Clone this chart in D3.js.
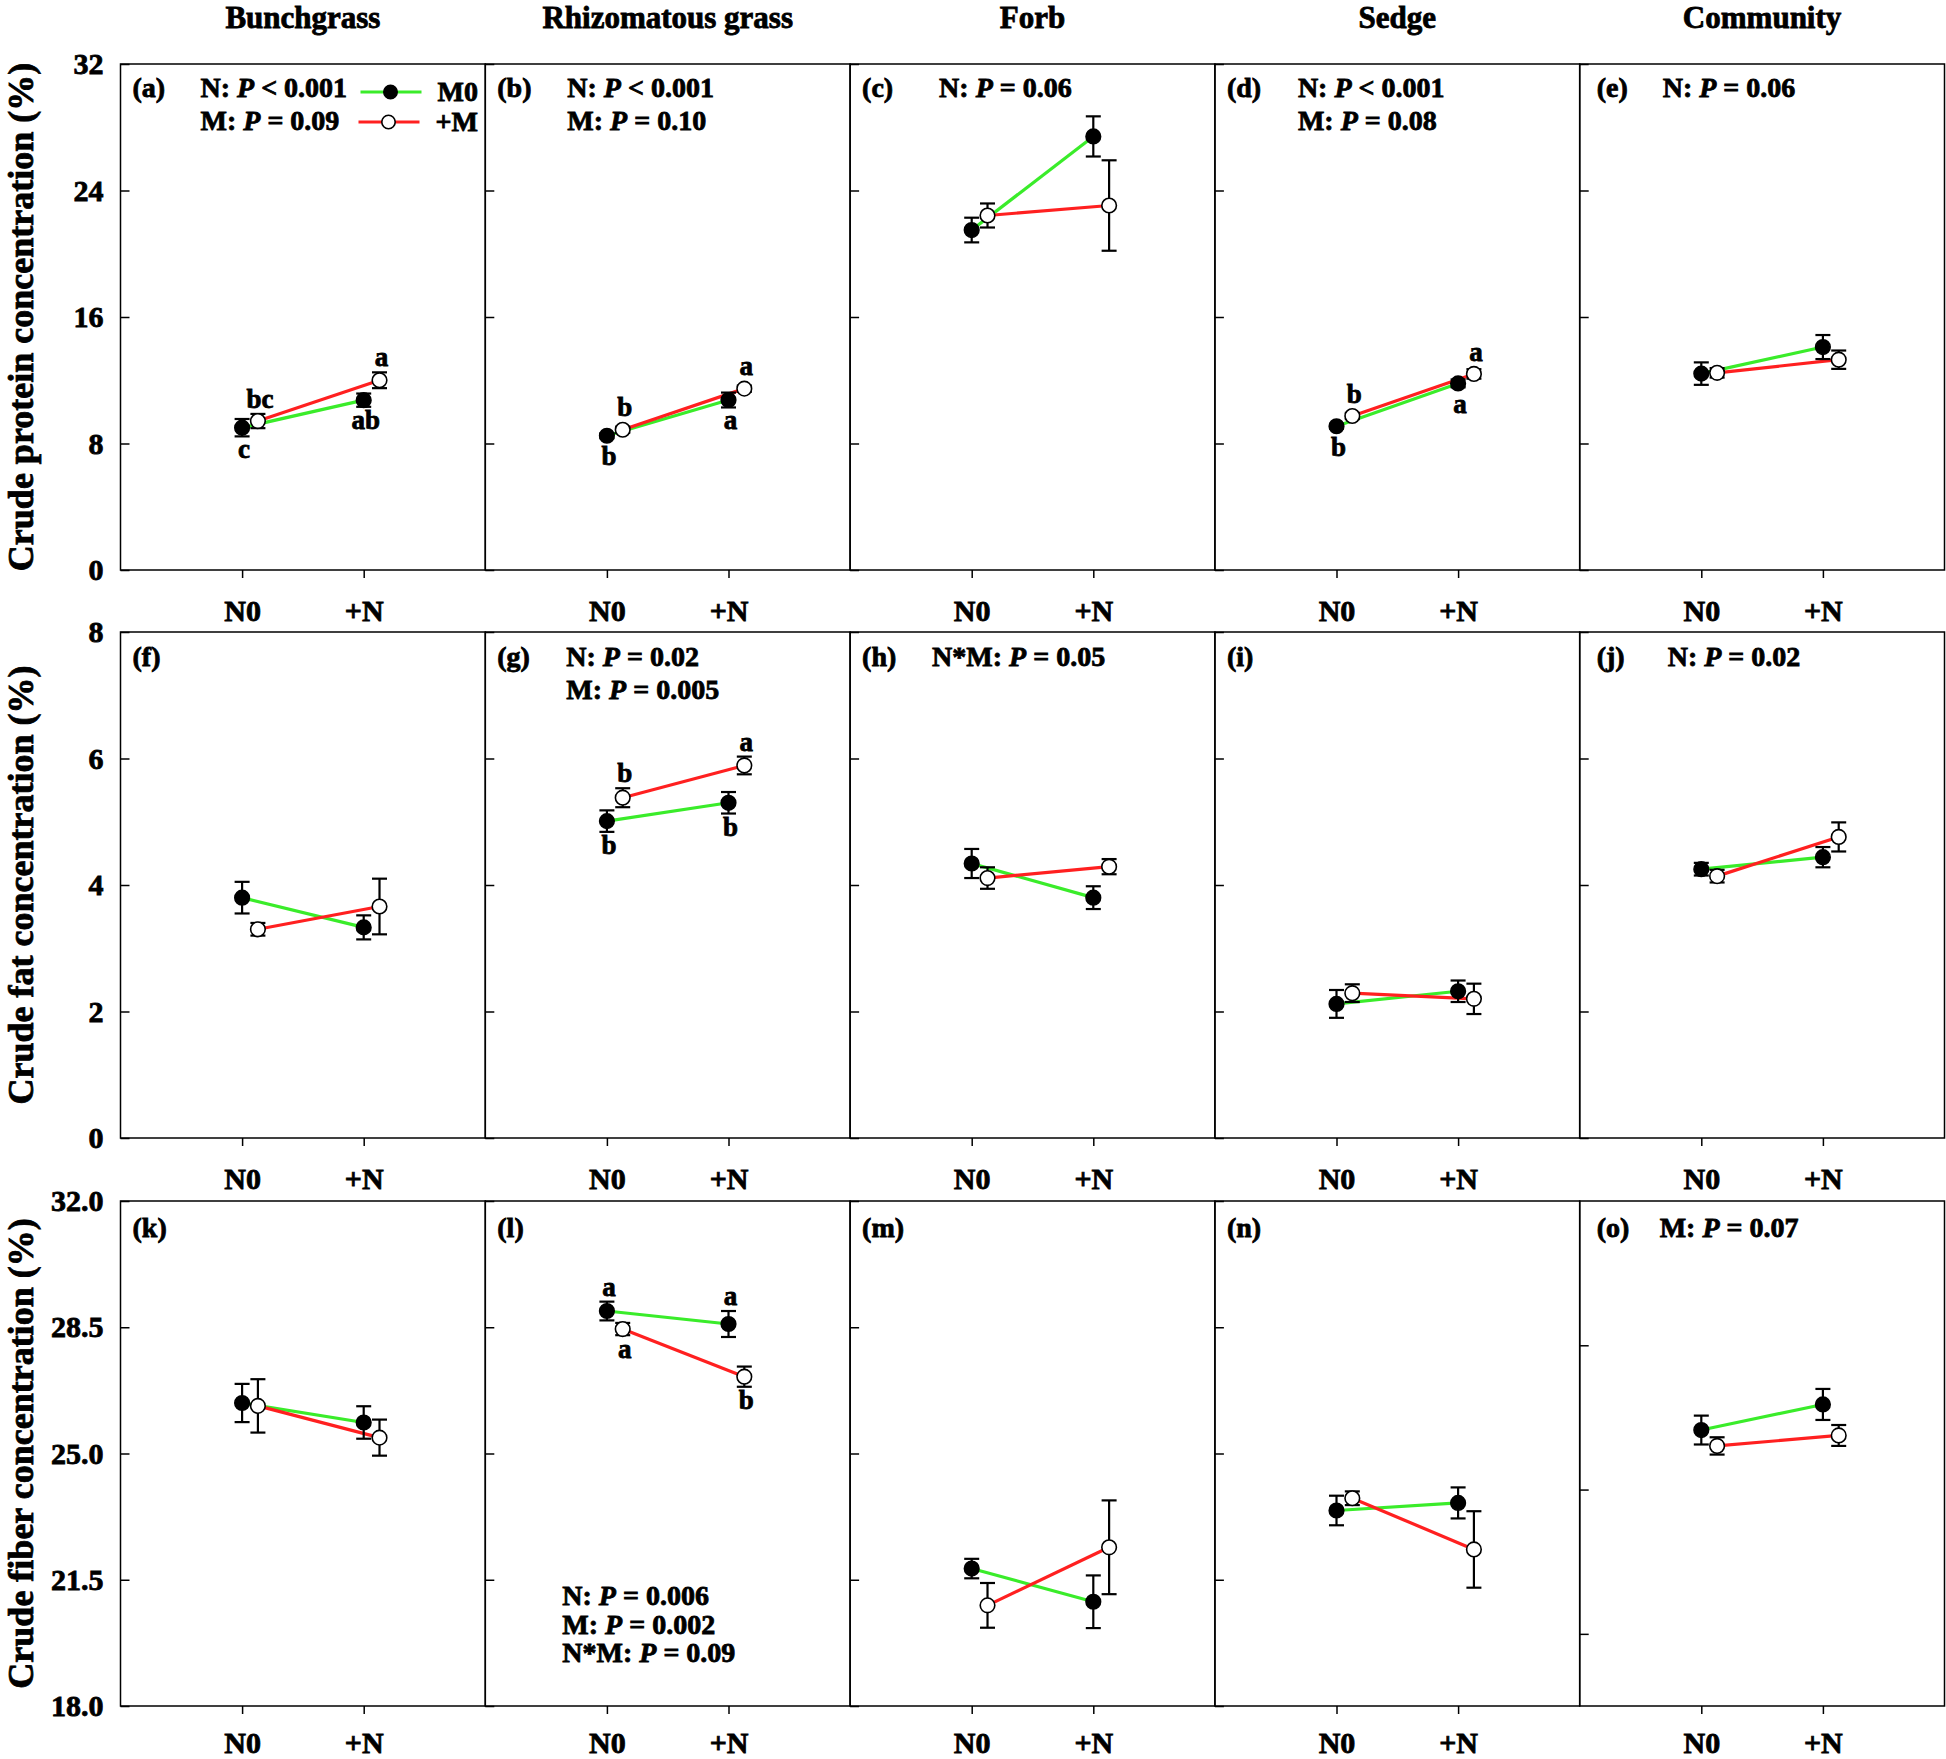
<!DOCTYPE html>
<html>
<head>
<meta charset="utf-8">
<script src="https://cdn.jsdelivr.net/npm/d3@7"></script>
<style>
body { margin: 0; background: #fff; }
svg { display: block; font-family: "Liberation Serif", "Times New Roman", serif; font-weight: bold; }
text { white-space: pre; stroke: #000; stroke-width: 0.8px; }
</style>
</head>
<body>
<div id="chart"></div>
<script>
// plant groups (columns) and N levels
var groups = ["Bunchgrass", "Rhizomatous grass", "Forb", "Sedge", "Community"];
var nLevels = ["N0", "+N"];
var seriesNames = ["M0", "+M"];
var rowTitles = ["Crude protein concentration (%)", "Crude fat concentration (%)", "Crude fiber concentration (%)"];
var panelTags = [["(a)", "(b)", "(c)", "(d)", "(e)"], ["(f)", "(g)", "(h)", "(i)", "(j)"], ["(k)", "(l)", "(m)", "(n)", "(o)"]];

// y axes
var proteinDomain = [0, 32];
var proteinTicks = [0, 8, 16, 24, 32];
var fatDomain = [0, 8];
var fatTicks = [0, 2, 4, 6, 8];
var fiberDomain = [18, 32];
var fiberTicks = [18.0, 21.5, 25.0, 28.5, 32.0];
var fiberCommunityTicks = [20, 24, 28];

// crude protein, [N0, +N] per group
var proteinM0 = [[9.0, 10.74], [8.49, 10.75], [21.5, 27.42], [9.09, 11.8], [12.42, 14.1]];
var proteinM0Err = [[0.55, 0.42], [0.15, 0.47], [0.78, 1.27], [0.15, 0.25], [0.71, 0.76]];
var proteinPlusM = [[9.42, 12.0], [8.87, 11.47], [22.42, 23.05], [9.74, 12.4], [12.47, 13.3]];
var proteinPlusMErr = [[0.45, 0.5], [0.2, 0.2], [0.76, 2.86], [0.2, 0.3], [0.3, 0.58]];
var proteinM0Letters = [["c", "ab"], ["b", "a"], null, ["b", "a"], null];
var proteinPlusMLetters = [["bc", "a"], ["b", "a"], null, ["b", "a"], null];
var proteinStats = [["N: P < 0.001", "M: P = 0.09"], ["N: P < 0.001", "M: P = 0.10"], ["N: P = 0.06"], ["N: P < 0.001", "M: P = 0.08"], ["N: P = 0.06"]];

// crude fat
var fatM0 = [[3.80, 3.33], [5.01, 5.30], [4.34, 3.80], [2.12, 2.32], [4.25, 4.44]];
var fatM0Err = [[0.25, 0.19], [0.17, 0.17], [0.23, 0.18], [0.22, 0.17], [0.1, 0.16]];
var fatPlusM = [[3.30, 3.66], [5.38, 5.89], [4.11, 4.29], [2.29, 2.20], [4.14, 4.76]];
var fatPlusMErr = [[0.1, 0.44], [0.15, 0.14], [0.17, 0.12], [0.14, 0.24], [0.1, 0.23]];
var fatM0Letters = [null, ["b", "b"], null, null, null];
var fatPlusMLetters = [null, ["b", "a"], null, null, null];
var fatStats = [[], ["N: P = 0.02", "M: P = 0.005"], ["N*M: P = 0.05"], [], ["N: P = 0.02"]];

// crude fiber
var fiberM0 = [[26.40, 25.86], [28.95, 28.59], [21.81, 20.89], [23.42, 23.63], [25.65, 26.36]];
var fiberM0Err = [[0.53, 0.45], [0.26, 0.36], [0.27, 0.73], [0.41, 0.43], [0.40, 0.43]];
var fiberPlusM = [[26.32, 25.44], [28.45, 27.13], [20.79, 22.40], [23.76, 22.34], [25.21, 25.50]];
var fiberPlusMErr = [[0.74, 0.50], [0.17, 0.28], [0.62, 1.30], [0.19, 1.06], [0.24, 0.29]];
var fiberM0Letters = [null, ["a", "a"], null, null, null];
var fiberPlusMLetters = [null, ["a", "b"], null, null, null];
var fiberStats = [[], ["N: P = 0.006", "M: P = 0.002", "N*M: P = 0.09"], [], [], ["M: P = 0.07"]];

var rows = [
	{domain: proteinDomain, ticks: proteinTicks, fmt: d3.format("d"), m0: proteinM0, m0Err: proteinM0Err, pm: proteinPlusM, pmErr: proteinPlusMErr, m0Let: proteinM0Letters, pmLet: proteinPlusMLetters, stats: proteinStats},
	{domain: fatDomain, ticks: fatTicks, fmt: d3.format("d"), m0: fatM0, m0Err: fatM0Err, pm: fatPlusM, pmErr: fatPlusMErr, m0Let: fatM0Letters, pmLet: fatPlusMLetters, stats: fatStats},
	{domain: fiberDomain, ticks: fiberTicks, fmt: d3.format(".1f"), m0: fiberM0, m0Err: fiberM0Err, pm: fiberPlusM, pmErr: fiberPlusMErr, m0Let: fiberM0Letters, pmLet: fiberPlusMLetters, stats: fiberStats}
];

var width = 1946, height = 1759;
var panelLeft = 120.5, panelWidth = 364.8;
var rowBox = [[64, 570], [632, 1138], [1201, 1706]];
var tagDy = [33, 34, 36];
var statDx = [[80, 82, 89, 83, 83], [80, 81, 82, 82, 88], [80, 77, 80, 80, 80]];
var dodge = 0.13;
var green = "#3aec2a", red = "#ff2020";
var fontFamily = "Liberation Serif, Times New Roman, serif";
var r = 7.3;

var svg = d3.select("#chart")
	.append("svg")
	.attr("width", width)
	.attr("height", height);

// column titles
groups.forEach(function(name, c){
	svg.append("text")
		.attr("x", panelLeft + panelWidth * (c + 0.5))
		.attr("y", 28)
		.attr("text-anchor", "middle")
		.attr("font-size", 31)
		.text(name);
});

function styleAxis(sel)
{
	sel.select(".domain").remove();
	sel.attr("font-family", fontFamily).attr("font-size", 30).attr("font-weight", "bold");
	sel.selectAll(".tick line").attr("stroke", "#000").attr("stroke-width", 1.5);
	sel.selectAll(".tick text").attr("fill", "#000");
}

function statText(sel, str)
{
	var i = str.indexOf("P");
	sel.append("tspan").text(str.slice(0, i));
	sel.append("tspan").attr("font-style", "italic").text("P");
	sel.append("tspan").text(str.slice(i + 1));
}

rows.forEach(function(row, ri){
	var top = rowBox[ri][0], bottom = rowBox[ri][1];

	//row title
	svg.append("text")
		.attr("transform", "translate(33," + ((top + bottom) / 2) + ") rotate(-90)")
		.attr("text-anchor", "middle")
		.attr("font-size", 36)
		.text(rowTitles[ri]);

	groups.forEach(function(name, c){
		var left = panelLeft + c * panelWidth;
		var x = d3.scaleLinear().domain([0, 3]).range([left, left + panelWidth]);
		var y = d3.scaleLinear().domain(row.domain).range([bottom, top]);
		var g = svg.append("g");

		g.append("rect")
			.attr("x", left).attr("y", top)
			.attr("width", panelWidth).attr("height", bottom - top)
			.attr("fill", "none").attr("stroke", "#000").attr("stroke-width", 1.5);

		var ticks = (ri == 2 && c == 4) ? fiberCommunityTicks : row.ticks;
		var yAxis = d3.axisLeft(y).tickValues(ticks).tickSize(-9).tickPadding(17)
			.tickFormat(c == 0 ? row.fmt : function(){ return ""; });
		g.append("g")
			.attr("transform", "translate(" + left + ",0)")
			.call(yAxis)
			.call(styleAxis);

		var xAxis = d3.axisBottom(x).tickValues([1, 2]).tickSize(8).tickPadding(ri == 2 ? 18 : 22)
			.tickFormat(function(d){ return nLevels[d - 1]; });
		g.append("g")
			.attr("transform", "translate(0," + bottom + ")")
			.call(xAxis)
			.call(styleAxis);

		var m0pts = row.m0[c].map(function(v, i){ return {x: i + 1, v: v, e: row.m0Err[c][i]}; });
		var pmpts = row.pm[c].map(function(v, i){ return {x: i + 1 + dodge, v: v, e: row.pmErr[c][i]}; });

		var line = d3.line().x(function(d){ return x(d.x); }).y(function(d){ return y(d.v); });
		g.append("path").datum(m0pts).attr("d", line)
			.attr("fill", "none").attr("stroke", green).attr("stroke-width", 3.2);
		g.append("path").datum(pmpts).attr("d", line)
			.attr("fill", "none").attr("stroke", red).attr("stroke-width", 3.2);

		[m0pts, pmpts].forEach(function(pts, s){
			var eb = g.selectAll(null).data(pts).enter().append("g")
				.attr("stroke", "#000").attr("stroke-width", 2.2);
			eb.append("line")
				.attr("x1", function(d){ return x(d.x); }).attr("x2", function(d){ return x(d.x); })
				.attr("y1", function(d){ return y(d.v - d.e); }).attr("y2", function(d){ return y(d.v + d.e); });
			eb.append("line")
				.attr("x1", function(d){ return x(d.x) - 7.5; }).attr("x2", function(d){ return x(d.x) + 7.5; })
				.attr("y1", function(d){ return y(d.v - d.e); }).attr("y2", function(d){ return y(d.v - d.e); });
			eb.append("line")
				.attr("x1", function(d){ return x(d.x) - 7.5; }).attr("x2", function(d){ return x(d.x) + 7.5; })
				.attr("y1", function(d){ return y(d.v + d.e); }).attr("y2", function(d){ return y(d.v + d.e); });

			g.selectAll(null).data(pts).enter().append("circle")
				.attr("cx", function(d){ return x(d.x); })
				.attr("cy", function(d){ return y(d.v); })
				.attr("r", r)
				.attr("fill", s == 0 ? "#000" : "#fff")
				.attr("stroke", "#000").attr("stroke-width", 1.6);
		});

		// significance letters: the higher series gets its letter above
		[[m0pts, row.m0Let[c], pmpts], [pmpts, row.pmLet[c], m0pts]].forEach(function(set){
			var pts = set[0], letters = set[1], other = set[2];
			if(!letters) return;
			pts.forEach(function(d, i){
				var above = d.v >= other[i].v;
				var ly = above ? Math.min(y(d.v + d.e), y(d.v) - r) - 6 : Math.max(y(d.v - d.e), y(d.v) + r) + 22;
				g.append("text")
					.attr("x", x(d.x) + 2)
					.attr("y", ly)
					.attr("text-anchor", "middle")
					.attr("font-size", 27)
					.text(letters[i]);
			});
		});

		g.append("text")
			.attr("x", left + (c == 4 ? 17 : 12))
			.attr("y", top + tagDy[ri])
			.attr("font-size", 28)
			.text(panelTags[ri][c]);

		var stats = row.stats[c];
		var bottomStats = (ri == 2 && c == 1);
		stats.forEach(function(str, k){
			var t = g.append("text")
				.attr("x", left + statDx[ri][c])
				.attr("y", bottomStats ? 1605 + k * 28.5 : top + tagDy[ri] + k * 32.5)
				.attr("font-size", 28);
			statText(t, str);
		});

		// legend in first panel
		if(ri == 0 && c == 0)
		{
			var lg = g.append("g");
			[green, red].forEach(function(col, s){
				var ly = top + 28 + s * 30;
				lg.append("line")
					.attr("x1", left + 240 - s * 2).attr("x2", left + 301 - s * 2)
					.attr("y1", ly).attr("y2", ly)
					.attr("stroke", col).attr("stroke-width", 3.2);
				lg.append("circle")
					.attr("cx", left + 270 - s * 2).attr("cy", ly).attr("r", 6.7)
					.attr("fill", s == 0 ? "#000" : "#fff")
					.attr("stroke", "#000").attr("stroke-width", 1.6);
				lg.append("text")
					.attr("x", left + 317 - s * 2)
					.attr("y", ly + 9)
					.attr("font-size", 28)
					.text(seriesNames[s]);
			});
		}
	});
});
</script>
</body>
</html>
